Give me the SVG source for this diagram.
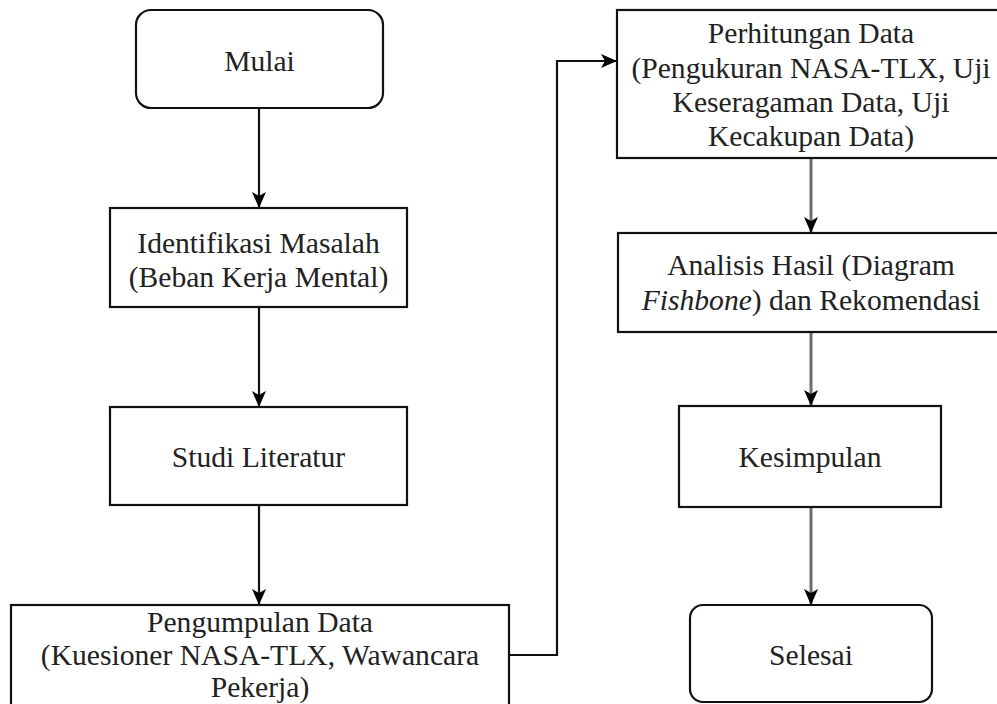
<svg xmlns="http://www.w3.org/2000/svg" width="997" height="704" viewBox="0 0 997 704">
<defs>
<style>
.box{fill:#fff;stroke:#111;stroke-width:2.2}
.t{font-family:'Liberation Serif','Times New Roman',serif;font-size:29.6px;fill:#222;text-anchor:middle}
.c{fill:none;stroke:#111;stroke-width:2.2}
.g{fill:none;stroke:#6e6e6e;stroke-width:3}
</style>
<marker id="ah" viewBox="0 0 16 16" refX="15" refY="8" markerWidth="16" markerHeight="16" markerUnits="userSpaceOnUse" orient="auto">
<path d="M0,1 L16,8 L0,15 L4,8 Z" fill="#000"/>
</marker>
</defs>
<rect width="997" height="704" fill="#fff"/>
<g id="connectors">
<path class="c" d="M259,108 V207" marker-end="url(#ah)"/>
<path class="c" d="M259,307 V406" marker-end="url(#ah)"/>
<path class="c" d="M259,505 V604" marker-end="url(#ah)"/>
<path class="c" d="M509,655 H557 V61 H616" marker-end="url(#ah)"/>
<path class="g" d="M811,158 V232" marker-end="url(#ah)"/>
<path class="g" d="M811,332 V405" marker-end="url(#ah)"/>
<path class="g" d="M811,507 V604" marker-end="url(#ah)"/>
</g>
<g id="mulai">
<rect class="box" x="136" y="10" width="247" height="98" rx="15"/>
<text class="t" x="259.5" y="71">Mulai</text>
</g>
<g id="identifikasi">
<rect class="box" x="110" y="208" width="297" height="99"/>
<text class="t" x="258.5" y="253">Identifikasi Masalah</text>
<text class="t" x="258.5" y="287">(Beban Kerja Mental)</text>
</g>
<g id="studi">
<rect class="box" x="110" y="407" width="297" height="98"/>
<text class="t" x="258.5" y="467">Studi Literatur</text>
</g>
<g id="pengumpulan">
<rect class="box" x="11" y="605" width="498" height="110"/>
<text class="t" x="260" y="632">Pengumpulan Data</text>
<text class="t" x="260" y="665">(Kuesioner NASA-TLX, Wawancara</text>
<text class="t" x="260" y="697">Pekerja)</text>
</g>
<g id="perhitungan">
<rect class="box" x="617" y="10" width="388" height="148"/>
<text class="t" x="811" y="43">Perhitungan Data</text>
<text class="t" x="811" y="78">(Pengukuran NASA-TLX, Uji</text>
<text class="t" x="811" y="112">Keseragaman Data, Uji</text>
<text class="t" x="811" y="146">Kecakupan Data)</text>
</g>
<g id="analisis">
<rect class="box" x="618" y="233" width="387" height="99"/>
<text class="t" x="811" y="275">Analisis Hasil (Diagram</text>
<text class="t" x="811" y="310"><tspan font-style="italic">Fishbone</tspan>) dan Rekomendasi</text>
</g>
<g id="kesimpulan">
<rect class="box" x="679" y="406" width="262" height="101"/>
<text class="t" x="810" y="467">Kesimpulan</text>
</g>
<g id="selesai">
<rect class="box" x="690" y="605" width="242" height="97" rx="13"/>
<text class="t" x="811" y="665">Selesai</text>
</g>
</svg>
